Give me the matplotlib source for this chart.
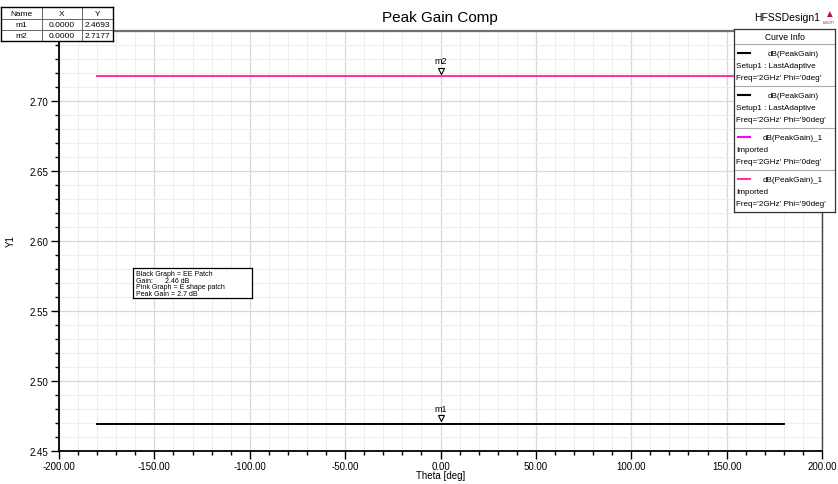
import matplotlib
matplotlib.use("Agg")
import matplotlib.pyplot as plt
import matplotlib.transforms as mtransforms
import numpy as np

plt.rcParams['font.family'] = ['Liberation Sans', 'DejaVu Sans']

# data
theta = [-180.0, 180.0]
ee_phi0 = [2.4693, 2.4693]
ee_phi90 = [2.4693, 2.4693]
es_phi0 = [2.7177, 2.7177]
es_phi90 = [2.7177, 2.7177]
marker_names = ['m1', 'm2']
marker_x = [0.0, 0.0]
marker_y = [2.4693, 2.7177]
curve_names = ["dB(PeakGain)", "dB(PeakGain)", "dB(PeakGain)_1", "dB(PeakGain)_1"]
curve_sub = ["Setup1 : LastAdaptive", "Setup1 : LastAdaptive", "Imported", "Imported"]
curve_freq = ["Freq='2GHz' Phi='0deg'", "Freq='2GHz' Phi='90deg'",
              "Freq='2GHz' Phi='0deg'", "Freq='2GHz' Phi='90deg'"]
curve_colors = ['black', 'black', '#ff00ff', '#ff3399']
note_lines = ["Black Graph = EE Patch", "Gain:      2.46 dB",
              "Pink Graph = E shape patch", "Peak Gain = 2.7 dB"]

W, H = 838, 485
fig = plt.figure(figsize=(W / 100, H / 100), dpi=100)

def px_axes(x0, y0, x1, y1):
    # axes placed by pixel box (top-left origin), local coords in pixels
    a = fig.add_axes([x0 / W, 1 - y1 / H, (x1 - x0) / W, (y1 - y0) / H])
    a.set_xlim(0, x1 - x0)
    a.set_ylim(y1 - y0, 0)
    return a

ax = fig.add_axes([59 / W, 1 - 452 / H, (822 - 59) / W, (452 - 32) / H])
series = [ee_phi0, ee_phi90, es_phi0, es_phi90]
for ys, c in zip(series, curve_colors):
    ax.plot(theta, ys, color=c, lw=1.2, zorder=3)

ax.set_xlim(-200, 200)
ax.set_ylim(2.45, 2.75)
ax.set_xticks(np.arange(-200, 201, 50))
ax.set_xticks(np.arange(-200, 201, 10), minor=True)
ax.set_yticks(np.arange(2.45, 2.751, 0.05))
ax.set_yticks(np.arange(2.45, 2.751, 0.01), minor=True)
ax.xaxis.set_major_formatter(matplotlib.ticker.FormatStrFormatter('%.2f'))
ax.yaxis.set_major_formatter(matplotlib.ticker.FormatStrFormatter('%.2f'))
ax.tick_params(axis='both', which='major', labelsize=7, length=6, width=1, direction='out', pad=1.5)
ax.tick_params(axis='both', which='minor', length=3, width=1, direction='out')
ax.yaxis.get_major_ticks()[-1].label1.set_visible(False)
ax.grid(which='minor', color='#eeeeee', lw=0.8)
ax.grid(which='major', color='#d8d8d8', lw=0.9)
ax.set_axisbelow(True)
for s in ['left', 'bottom']:
    ax.spines[s].set_linewidth(1.3)
ax.spines['top'].set_color('#707070')
ax.spines['top'].set_linewidth(1.6)
ax.spines['right'].set_color('#404040')
ax.spines['right'].set_linewidth(1.0)
ax.set_xlabel('Theta [deg]', fontsize=7, labelpad=-1)
fig.text(11 / W, 1 - 241 / H, 'Y1', rotation=90, fontsize=7, ha='center', va='center')

# markers
off = mtransforms.ScaledTranslation(0, 4 / 72, fig.dpi_scale_trans)
for n, mx, my in zip(marker_names, marker_x, marker_y):
    ax.plot([mx], [my], marker='v', ms=4, mfc='white', mec='black', mew=0.8,
            transform=ax.transData + off, zorder=4)
    ax.annotate(n, xy=(mx, my), xytext=(0, 8), textcoords='offset points',
                ha='center', va='bottom', fontsize=6.5)

# note box
nax = px_axes(133, 269, 252, 299)
nax.set_xticks([])
nax.set_yticks([])
for s in nax.spines.values():
    s.set_linewidth(0.9)
for i, line in enumerate(note_lines):
    nax.text(3, 5.5 + i * 6.6, line, fontsize=5, va='center', ha='left')

# title
fig.text(440 / W, 1 - 18 / H, 'Peak Gain Comp', fontsize=11, ha='center', va='center')
fig.text(820 / W, 1 - 18 / H, 'HFSSDesign1', fontsize=7.5, ha='right', va='center')
fig.text(829 / W, 1 - 14 / H, '\u25b2', fontsize=7, color='#c8102e', ha='center', va='center')
fig.text(829 / W, 1 - 23 / H, 'ANSOFT', fontsize=2, color='#c8102e', ha='center', va='center')

# marker table
tax = px_axes(1, 8, 113, 42)
tax.set_xticks([])
tax.set_yticks([])
for s in tax.spines.values():
    s.set_linewidth(1.0)
col_edges = [0, 41, 81, 112]
row_edges = [0, 12, 23, 34]
for xe in col_edges[1:-1]:
    tax.axvline(xe, color='#666666', lw=0.7)
for ye in row_edges[1:-1]:
    tax.axhline(ye, color='#666666', lw=0.7)
rows = [['Name', 'X', 'Y']] + [[n, '%.4f' % x, '%.4f' % y]
                               for n, x, y in zip(marker_names, marker_x, marker_y)]
for r, row in enumerate(rows):
    for c, txt in enumerate(row):
        tax.text((col_edges[c] + col_edges[c + 1]) / 2, (row_edges[r] + row_edges[r + 1]) / 2,
                 txt, fontsize=6, ha='center', va='center')

# curve info legend
lax = px_axes(734, 30, 835, 213)
lax.set_xticks([])
lax.set_yticks([])
lax.set_facecolor('white')
for s in lax.spines.values():
    s.set_linewidth(0.9)
    s.set_color('#333333')
lax.text(50.5, 8, 'Curve Info', fontsize=6.2, ha='center', va='center')
for i in range(4):
    y0 = 15 + i * 42
    lax.axhline(y0, color='#aaaaaa', lw=0.8)
    lax.plot([4, 16], [y0 + 9, y0 + 9], color=curve_colors[i], lw=1.5)
    lax.text(59, y0 + 9, curve_names[i], fontsize=5.9, ha='center', va='center')
    lax.text(2, y0 + 22, curve_sub[i], fontsize=5.9, ha='left', va='center')
    lax.text(2, y0 + 34, curve_freq[i], fontsize=5.9, ha='left', va='center')

fig.savefig('out.png', dpi=100)
